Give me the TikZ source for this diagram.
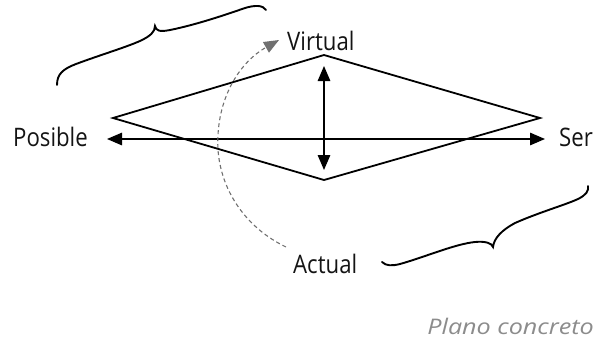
\documentclass[tikz,border=0pt]{standalone}
\usepackage{fontspec}
\setmainfont{Open Sans}[FakeStretch=0.87]
\newfontfamily\planofont{Open Sans}[FakeStretch=1.17]
\usetikzlibrary{arrows.meta}
\definecolor{txt}{HTML}{141414}
\definecolor{dashgray}{HTML}{707070}
\definecolor{planogray}{HTML}{8C8C8C}
\begin{document}
\begin{tikzpicture}[x=1pt,y=-1pt,
  lbl/.style={inner sep=0pt,text=txt,font=\fontsize{25.5}{30}\selectfont},
  edge/.style={line width=1.8pt,line join=miter},
  dbl/.style={line width=1.4pt,{Triangle[length=15pt,width=12.5pt]}-{Triangle[length=15pt,width=12.5pt]}},
  brace/.style={line width=1.9pt,line cap=round},
  arc/.style={dashgray,line width=1.1pt,dash pattern=on 4pt off 3pt,-{Triangle[length=15pt,width=12pt]}}]
\useasboundingbox (0,0) rectangle (597,341);
% labels
\node[lbl,anchor=base east] (posible) at (88,146) {Posible};
\node[lbl,anchor=base west] (ser) at (559,146) {Ser};
\node[lbl,anchor=base west] (virtual) at (287,50) {Virtual};
\node[lbl,anchor=base west] (actual) at (293,273) {Actual};
\node[inner sep=0pt,anchor=base east,text=planogray,font=\planofont\fontsize{21.5}{26}\selectfont\itshape] (plano) at (594,334) {Plano concreto};
% diamond
\coordinate (L) at (113,118);
\coordinate (T) at (324,55);
\coordinate (R) at (540,118);
\coordinate (B) at (324,180);
\draw[edge] (L) -- (T) -- (R) -- (B) -- cycle;
% arrows
\coordinate (hl) at (107,139);
\coordinate (hr) at (545,139);
\draw[dbl] (hl) -- (hr);
\coordinate (vt) at (324,66);
\coordinate (vb) at (324,170);
\draw[dbl] (vt) -- (vb);
% dashed arc
\coordinate (a0) at (286,247);
\coordinate (am) at (218,135);
\coordinate (a1) at (279,40);
\draw[arc] (a0) .. controls (240,225) and (215,180) .. (am) .. controls (220,95) and (240,62) .. (a1);
% top brace
\draw[brace] (57,85) .. controls (57,74) and (63,69) .. (76,64)
  .. controls (100,55) and (130,46) .. (142,40)
  .. controls (150,36) and (155,32) .. (155,26)
  .. controls (156,31) and (160,32) .. (170,30)
  .. controls (195,25) and (225,15) .. (245,8)
  .. controls (255,5) and (263,5) .. (266,10);
% bottom brace
\draw[brace] (382,262) .. controls (386,266) and (392,266) .. (400,264)
  .. controls (425,257) and (455,244) .. (475,242)
  .. controls (485,241) and (492,243) .. (493,247)
  .. controls (494,238) and (502,230) .. (515,223)
  .. controls (540,212) and (565,205) .. (578,199)
  .. controls (586,195) and (589,191) .. (588,186);
\end{tikzpicture}
\end{document}
